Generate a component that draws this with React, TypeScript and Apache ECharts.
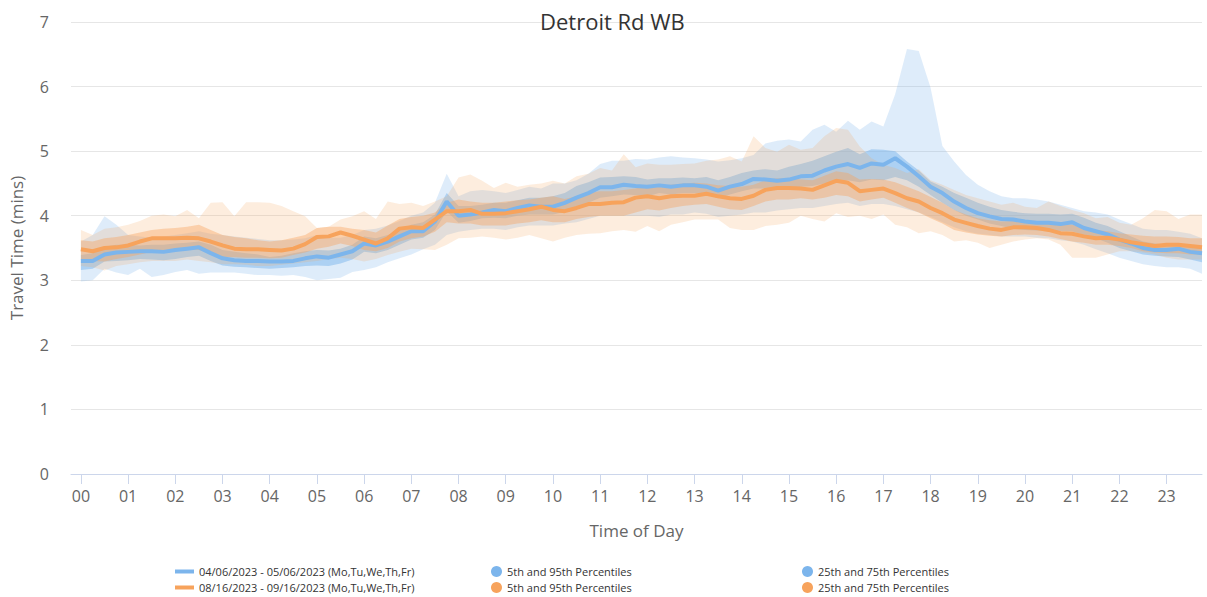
import React, { useEffect, useRef } from "react";
import * as echarts from "echarts";

const TITLE = "Detroit Rd WB";
const BLUE_NAME = "04/06/2023 - 05/06/2023 (Mo,Tu,We,Th,Fr)";
const ORANGE_NAME = "08/16/2023 - 09/16/2023 (Mo,Tu,We,Th,Fr)";
const P595 = "5th and 95th Percentiles";
const P2575 = "25th and 75th Percentiles";
const HOUR_LABELS = ["00","01","02","03","04","05","06","07","08","09","10","11","12","13","14","15","16","17","18","19","20","21","22","23"];

// 15-minute intervals, 00:00 .. 23:45 (96 values each)
const blueMedian = [
  3.30, 3.30, 3.40, 3.43, 3.44, 3.45, 3.45, 3.44, 3.47, 3.49, 3.51, 3.42,
  3.34, 3.31, 3.30, 3.30, 3.29, 3.29, 3.30, 3.34, 3.37, 3.35, 3.40, 3.45,
  3.57, 3.54, 3.60, 3.68, 3.76, 3.76, 3.91, 4.22, 4.00, 4.02, 4.05, 4.09,
  4.07, 4.12, 4.16, 4.14, 4.14, 4.20, 4.28, 4.35, 4.44, 4.44, 4.48, 4.46,
  4.45, 4.47, 4.45, 4.47, 4.47, 4.45, 4.39, 4.45, 4.49, 4.57, 4.56, 4.54,
  4.56, 4.61, 4.62, 4.70, 4.76, 4.80, 4.74, 4.81, 4.79, 4.89, 4.76, 4.61,
  4.45, 4.35, 4.22, 4.12, 4.04, 3.99, 3.95, 3.94, 3.91, 3.89, 3.89, 3.87,
  3.90, 3.81, 3.76, 3.71, 3.63, 3.57, 3.50, 3.47, 3.47, 3.49, 3.44, 3.42,
];
const orangeMedian = [
  3.48, 3.45, 3.50, 3.51, 3.54, 3.60, 3.65, 3.65, 3.65, 3.66, 3.65, 3.60,
  3.54, 3.49, 3.48, 3.48, 3.47, 3.46, 3.49, 3.56, 3.67, 3.68, 3.74, 3.69,
  3.63, 3.57, 3.65, 3.80, 3.82, 3.81, 3.94, 4.07, 4.07, 4.09, 4.03, 4.03,
  4.04, 4.07, 4.10, 4.14, 4.09, 4.07, 4.12, 4.18, 4.18, 4.20, 4.21, 4.28,
  4.30, 4.27, 4.30, 4.31, 4.31, 4.34, 4.30, 4.27, 4.26, 4.31, 4.40, 4.43,
  4.43, 4.42, 4.40, 4.47, 4.54, 4.51, 4.38, 4.40, 4.42, 4.35, 4.27, 4.22,
  4.12, 4.04, 3.94, 3.89, 3.84, 3.80, 3.78, 3.82, 3.82, 3.81, 3.78, 3.73,
  3.72, 3.68, 3.65, 3.66, 3.63, 3.59, 3.56, 3.53, 3.55, 3.55, 3.53, 3.51,
];
const blueP5 = [
  2.98, 3.00, 3.18, 3.12, 3.08, 3.18, 3.05, 3.08, 3.13, 3.16, 3.10, 3.12,
  3.12, 3.12, 3.10, 3.08, 3.08, 3.07, 3.08, 3.05, 3.00, 3.02, 3.04, 3.13,
  3.16, 3.20, 3.28, 3.34, 3.40, 3.48, 3.55, 3.70, 3.75, 3.78, 3.80, 3.80,
  3.78, 3.82, 3.85, 3.85, 3.85, 3.88, 3.90, 3.95, 4.00, 4.00, 4.00, 4.00,
  4.00, 3.98, 4.02, 4.02, 4.05, 4.03, 3.98, 4.00, 4.02, 4.05, 4.05, 4.08,
  4.10, 4.12, 4.12, 4.15, 4.18, 4.20, 4.15, 4.18, 4.18, 4.15, 4.10, 4.05,
  3.98, 3.90, 3.82, 3.76, 3.72, 3.70, 3.68, 3.68, 3.68, 3.66, 3.65, 3.62,
  3.60, 3.55, 3.48, 3.42, 3.35, 3.30, 3.25, 3.22, 3.20, 3.20, 3.18, 3.10,
];
const blueP95 = [
  3.60, 3.70, 3.99, 3.86, 3.70, 3.68, 3.66, 3.68, 3.70, 3.73, 3.76, 3.72,
  3.70, 3.68, 3.66, 3.64, 3.62, 3.62, 3.63, 3.65, 3.70, 3.66, 3.66, 3.70,
  3.78, 3.80, 3.85, 3.92, 4.00, 4.05, 4.20, 4.65, 4.30, 4.38, 4.40, 4.38,
  4.35, 4.40, 4.45, 4.42, 4.50, 4.50, 4.55, 4.65, 4.80, 4.85, 4.85, 4.88,
  4.87, 4.90, 4.92, 4.90, 4.89, 4.87, 4.84, 4.86, 4.89, 4.94, 5.12, 5.16,
  5.18, 5.15, 5.33, 5.41, 5.30, 5.47, 5.33, 5.46, 5.38, 5.88, 6.58, 6.55,
  5.98, 5.08, 4.84, 4.63, 4.48, 4.38, 4.30, 4.27, 4.27, 4.25, 4.22, 4.17,
  4.12, 4.07, 4.05, 4.02, 3.94, 3.87, 3.80, 3.78, 3.78, 3.75, 3.72, 3.65,
];
const blueP25 = [
  3.16, 3.18, 3.29, 3.30, 3.31, 3.33, 3.32, 3.31, 3.33, 3.36, 3.38, 3.30,
  3.23, 3.21, 3.20, 3.19, 3.18, 3.19, 3.20, 3.22, 3.23, 3.22, 3.26, 3.32,
  3.44, 3.42, 3.47, 3.55, 3.63, 3.66, 3.78, 4.07, 3.89, 3.92, 3.96, 3.97,
  3.96, 4.00, 4.02, 4.02, 4.02, 4.06, 4.12, 4.20, 4.28, 4.30, 4.33, 4.32,
  4.30, 4.35, 4.33, 4.35, 4.35, 4.33, 4.27, 4.33, 4.38, 4.42, 4.42, 4.40,
  4.40, 4.45, 4.46, 4.50, 4.51, 4.55, 4.52, 4.56, 4.55, 4.60, 4.55, 4.45,
  4.32, 4.20, 4.09, 4.00, 3.94, 3.88, 3.84, 3.80, 3.78, 3.77, 3.77, 3.76,
  3.76, 3.70, 3.65, 3.58, 3.50, 3.45, 3.40, 3.38, 3.37, 3.36, 3.32, 3.28,
];
const blueP75 = [
  3.39, 3.42, 3.52, 3.55, 3.55, 3.54, 3.55, 3.55, 3.57, 3.58, 3.60, 3.55,
  3.47, 3.44, 3.42, 3.40, 3.36, 3.38, 3.42, 3.45, 3.47, 3.46, 3.49, 3.55,
  3.68, 3.65, 3.70, 3.78, 3.86, 3.90, 4.02, 4.35, 4.15, 4.15, 4.17, 4.20,
  4.20, 4.24, 4.28, 4.28, 4.30, 4.35, 4.46, 4.52, 4.59, 4.60, 4.61, 4.60,
  4.56, 4.58, 4.58, 4.59, 4.58, 4.60, 4.55, 4.60, 4.66, 4.70, 4.72, 4.70,
  4.76, 4.80, 4.85, 4.92, 4.99, 5.05, 4.95, 5.03, 5.02, 5.00, 4.84, 4.70,
  4.53, 4.45, 4.35, 4.28, 4.20, 4.14, 4.09, 4.06, 4.04, 4.03, 4.03, 4.02,
  4.03, 3.97, 3.89, 3.84, 3.76, 3.68, 3.60, 3.57, 3.55, 3.56, 3.53, 3.50,
];
const orangeP5 = [
  3.22, 3.20, 3.15, 3.22, 3.25, 3.28, 3.30, 3.30, 3.30, 3.32, 3.30, 3.28,
  3.25, 3.25, 3.24, 3.22, 3.22, 3.24, 3.26, 3.28, 3.30, 3.33, 3.35, 3.33,
  3.29, 3.33, 3.39, 3.44, 3.49, 3.48, 3.47, 3.55, 3.65, 3.66, 3.68, 3.66,
  3.63, 3.66, 3.70, 3.65, 3.60, 3.66, 3.70, 3.72, 3.73, 3.76, 3.78, 3.75,
  3.84, 3.76, 3.86, 3.90, 3.94, 3.94, 3.94, 3.81, 3.78, 3.78, 3.84, 3.86,
  3.89, 4.00, 3.95, 3.91, 4.04, 3.98, 4.00, 3.95, 4.02, 3.86, 3.82, 3.73,
  3.76, 3.70, 3.60, 3.62, 3.58, 3.50, 3.55, 3.60, 3.63, 3.65, 3.63, 3.55,
  3.35, 3.35, 3.35, 3.40, 3.45, 3.45, 3.43, 3.40, 3.35, 3.32, 3.32, 3.32,
];
const orangeP95 = [
  3.78, 3.70, 3.80, 3.82, 3.86, 3.92, 4.00, 4.02, 3.99, 4.09, 3.96, 4.20,
  4.21, 3.99, 4.21, 4.21, 4.20, 4.15, 4.07, 3.99, 3.81, 3.83, 3.94, 3.99,
  4.07, 3.95, 4.22, 4.18, 4.20, 4.15, 4.22, 4.30, 4.59, 4.64, 4.54, 4.43,
  4.51, 4.45, 4.48, 4.50, 4.54, 4.50, 4.61, 4.65, 4.74, 4.70, 4.95, 4.75,
  4.81, 4.79, 4.79, 4.80, 4.81, 4.85, 4.87, 4.92, 4.84, 5.23, 5.05, 4.99,
  5.10, 5.02, 5.05, 5.23, 5.36, 5.33, 5.07, 4.89, 4.79, 4.74, 4.66, 4.72,
  4.55, 4.48, 4.40, 4.32, 4.27, 4.22, 4.17, 4.20, 4.14, 4.12, 4.22, 4.15,
  4.09, 4.04, 3.96, 3.98, 3.89, 3.86, 3.96, 4.09, 4.07, 3.95, 4.02, 4.02,
];
const orangeP25 = [
  3.31, 3.30, 3.29, 3.33, 3.36, 3.40, 3.44, 3.45, 3.47, 3.48, 3.47, 3.42,
  3.36, 3.36, 3.35, 3.35, 3.34, 3.35, 3.39, 3.43, 3.49, 3.52, 3.57, 3.53,
  3.47, 3.45, 3.50, 3.60, 3.65, 3.68, 3.75, 3.90, 3.88, 3.88, 3.85, 3.85,
  3.85, 3.88, 3.90, 3.93, 3.90, 3.90, 3.95, 3.98, 4.00, 4.00, 4.00, 4.05,
  4.10, 4.08, 4.12, 4.15, 4.17, 4.18, 4.14, 4.10, 4.09, 4.15, 4.22, 4.25,
  4.25, 4.27, 4.25, 4.28, 4.32, 4.30, 4.22, 4.25, 4.28, 4.20, 4.12, 4.05,
  3.96, 3.88, 3.78, 3.74, 3.71, 3.69, 3.68, 3.70, 3.71, 3.70, 3.68, 3.64,
  3.60, 3.58, 3.55, 3.55, 3.53, 3.50, 3.45, 3.43, 3.42, 3.42, 3.40, 3.40,
];
const orangeP75 = [
  3.62, 3.60, 3.65, 3.67, 3.70, 3.74, 3.78, 3.80, 3.81, 3.83, 3.86, 3.78,
  3.70, 3.67, 3.65, 3.62, 3.60, 3.62, 3.66, 3.70, 3.81, 3.83, 3.83, 3.80,
  3.78, 3.74, 3.85, 3.95, 3.98, 4.00, 4.05, 4.20, 4.25, 4.22, 4.20, 4.20,
  4.22, 4.24, 4.25, 4.28, 4.30, 4.26, 4.30, 4.35, 4.38, 4.38, 4.40, 4.42,
  4.48, 4.46, 4.48, 4.50, 4.51, 4.50, 4.47, 4.46, 4.45, 4.48, 4.55, 4.58,
  4.58, 4.56, 4.55, 4.62, 4.69, 4.66, 4.56, 4.57, 4.56, 4.52, 4.45, 4.38,
  4.29, 4.20, 4.09, 4.02, 3.96, 3.93, 3.91, 3.92, 3.93, 3.92, 3.90, 3.88,
  3.86, 3.82, 3.78, 3.76, 3.73, 3.71, 3.69, 3.68, 3.68, 3.67, 3.65, 3.65,
];

const BLUE = "#7cb5ec";
const ORANGE = "#f7a35c";
const FONT = "'Open Sans', 'Noto Sans', sans-serif";

const hours = blueMedian.map((_, i) => i / 4);
const pts = (arr: number[]) => arr.map((v, i) => [hours[i], v]);

function band(name: string, lo: number[], hi: number[], color: string, fill: string) {
  return {
    name,
    type: "custom",
    data: lo.map((v, i) => [hours[i], v, hi[i]]),
    encode: { x: 0, y: [1, 2] },
    itemStyle: { color },
    silent: true,
    z: 1,
    renderItem: (params: any, api: any) => {
      if (params.dataIndex !== 0) return null;
      const top = hi.map((v, i) => api.coord([hours[i], v]));
      const bottom = lo.map((v, i) => api.coord([hours[i], v])).reverse();
      return {
        type: "polygon",
        shape: { points: top.concat(bottom) },
        style: { fill, stroke: "none" },
      };
    },
  };
}

export default function App() {
  const ref = useRef<HTMLDivElement>(null);
  useEffect(() => {
    document.body.style.margin = "0";
    if (!ref.current) return;
    const chart = echarts.init(ref.current, null, { renderer: "svg" });
    const legendText = { fontSize: 11, color: "#333", fontFamily: FONT };
    const lineLegend = (name: string, color: string, top: number) => ({
      left: 175,
      top,
      padding: 0,
      itemWidth: 19,
      itemHeight: 4,
      itemGap: 0,
      textStyle: legendText,
      selectedMode: false,
      data: [{ name, icon: "rect", itemStyle: { color } }],
    });
    const dotLegend = (name: string, color: string, left: number, top: number) => ({
      left,
      top,
      padding: 0,
      itemWidth: 11,
      itemHeight: 11,
      itemGap: 0,
      textStyle: legendText,
      selectedMode: false,
      formatter: (n: string) => n.trim(),
      data: [{ name, icon: "circle", itemStyle: { color } }],
    });
    chart.setOption({
      animation: false,
      backgroundColor: "#ffffff",
      title: {
        text: TITLE,
        left: 535,
        top: 5,
        textStyle: { fontSize: 22, fontWeight: "normal", color: "#333", fontFamily: FONT },
      },
      grid: { left: 70, right: 5, top: 22, bottom: 123 },
      xAxis: {
        type: "value",
        min: -0.21,
        max: 23.75,
        name: "Time of Day",
        nameLocation: "middle",
        nameGap: 48,
        nameTextStyle: { fontSize: 17, color: "#666", fontFamily: FONT },
        axisLine: { show: true, lineStyle: { color: "#ccd6eb" } },
        axisTick: { show: true, length: 10, customValues: HOUR_LABELS.map((_, i) => i), lineStyle: { color: "#ccd6eb" } },
        axisLabel: {
          customValues: HOUR_LABELS.map((_, i) => i),
          formatter: (v: number) => HOUR_LABELS[Math.round(v)] ?? "",
          fontSize: 16,
          color: "#666",
          fontFamily: FONT,
          margin: 14,
        },
        splitLine: { show: false },
      },
      yAxis: {
        type: "value",
        min: 0,
        max: 7,
        interval: 1,
        name: "Travel Time (mins)",
        nameLocation: "middle",
        nameGap: 46,
        nameTextStyle: { fontSize: 17, color: "#666", fontFamily: FONT },
        axisLine: { show: false },
        axisTick: { show: false },
        axisLabel: { fontSize: 16, color: "#666", fontFamily: FONT, margin: 22 },
        splitLine: { lineStyle: { color: "#e6e6e6" } },
      },
      legend: [
        lineLegend(BLUE_NAME, BLUE, 566),
        lineLegend(ORANGE_NAME, ORANGE, 582),
        dotLegend(P595, BLUE, 491, 566),
        dotLegend(P595 + " ", ORANGE, 491, 582),
        dotLegend(P2575, BLUE, 802, 566),
        dotLegend(P2575 + " ", ORANGE, 802, 582),
      ],
      series: [
        band(P595, blueP5, blueP95, BLUE, "rgba(124,181,236,0.25)"),
        band(P2575, blueP25, blueP75, BLUE, "rgba(124,181,236,0.5)"),
        band(P595 + " ", orangeP5, orangeP95, ORANGE, "rgba(247,163,92,0.2)"),
        band(P2575 + " ", orangeP25, orangeP75, ORANGE, "rgba(247,163,92,0.4)"),
        {
          name: BLUE_NAME,
          type: "line",
          data: pts(blueMedian),
          symbol: "none",
          lineStyle: { color: BLUE, width: 4 },
          itemStyle: { color: BLUE },
          z: 3,
        },
        {
          name: ORANGE_NAME,
          type: "line",
          data: pts(orangeMedian),
          symbol: "none",
          lineStyle: { color: ORANGE, width: 4 },
          itemStyle: { color: ORANGE },
          z: 3,
        },
      ],
    });
    return () => chart.dispose();
  }, []);
  return <div ref={ref} style={{ width: 1207, height: 597 }} />;
}
